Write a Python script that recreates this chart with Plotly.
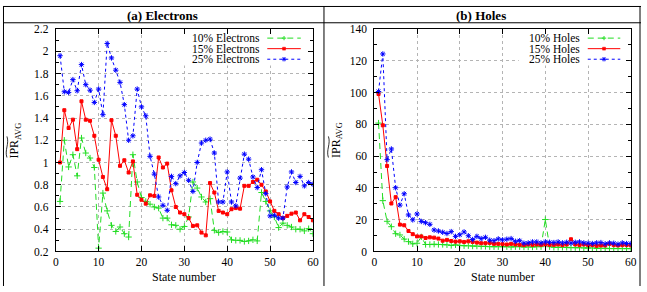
import plotly.graph_objects as go

W, H = 647, 292

# ---------------- data ----------------
states = list(range(1, 61))

electrons_10 = [0.65, 1.2, 0.96, 1.07, 0.88, 1.22, 1.085, 1.04, 0.955, 0.23,
                0.725, 0.565, 0.435, 0.38, 0.42, 0.36, 0.33, 1.07, 0.825, 0.685,
                0.65, 0.625, 0.60, 0.59, 0.50, 0.50, 0.44, 0.435, 0.40, 0.425,
                0.51, 0.825, 0.77, 0.69, 0.645, 0.675, 0.39, 0.37, 0.38, 0.375,
                0.305, 0.30, 0.30, 0.29, 0.295, 0.305, 0.295, 0.73, 0.65, 0.565,
                0.51, 0.415, 0.455, 0.435, 0.42, 0.40, 0.40, 0.385, 0.405, 0.36]
electrons_15 = [1.0, 1.47, 1.31, 1.385, 1.12, 1.55, 1.385, 1.375, 1.24, 1.025,
                0.87, 0.76, 1.38, 1.24, 0.97, 1.02, 0.91, 1.01, 0.71, 0.665,
                0.63, 0.705, 0.70, 1.045, 0.955, 0.99, 0.75, 0.60, 0.55, 0.535,
                0.50, 0.43, 0.435, 0.37, 0.345, 0.815, 0.73, 0.565, 0.55, 0.535,
                0.58, 0.59, 0.585, 0.79, 0.79, 0.825, 0.845, 0.80, 0.74, 0.65,
                0.565, 0.535, 0.50, 0.52, 0.54, 0.55, 0.48, 0.535, 0.51, 0.48]
electrons_25 = [1.96, 1.636, 1.63, 1.745, 1.645, 1.88, 1.70, 1.65, 1.54, 1.66,
                1.43, 2.07, 1.94, 1.83, 1.72, 1.52, 1.20, 1.24, 1.66, 1.50,
                1.42, 1.055, 0.895, 0.69, 0.615, 0.57, 0.875, 0.81, 0.88, 0.91,
                0.84, 0.74, 1.0, 1.175, 1.20, 1.21, 1.085, 0.645, 0.645, 0.915,
                0.645, 0.61, 0.86, 1.075, 1.03, 0.87, 0.775, 0.935, 0.72, 0.52,
                0.525, 0.50, 0.50, 0.78, 0.915, 0.82, 0.875, 0.79, 0.82, 0.805]

holes_10 = [80.8, 32.0, 19.0, 15.6, 11.2, 10.4, 7.8, 6.2, 4.8, 5.2,
            9.2, 4.4, 4.4, 4.6, 4.4, 4.4, 4.2, 3.8, 4.2, 3.8,
            3.6, 3.6, 3.4, 3.4, 3.2, 3.2, 3.0, 3.0, 3.0, 3.0,
            3.0, 2.8, 3.0, 3.0, 2.8, 2.8, 2.8, 3.0, 3.0, 20.1,
            3.0, 2.6, 2.6, 2.6, 2.6, 2.4, 2.4, 2.4, 2.2, 2.2,
            2.2, 2.0, 2.0, 2.0, 1.8, 1.8, 1.8, 1.8, 1.8, 1.8]
holes_15 = [99.1, 79.4, 53.8, 30.2, 34.2, 16.9, 16.5, 12.9, 10.9, 9.5,
            9.5, 8.5, 8.9, 8.7, 8.1, 6.8, 7.3, 6.6, 6.2, 6.4,
            6.0, 6.4, 6.0, 5.6, 5.2, 5.2, 5.4, 4.8, 4.8, 4.6,
            4.4, 4.8, 4.4, 4.2, 4.0, 4.4, 4.2, 4.4, 4.2, 4.4,
            4.2, 4.2, 4.4, 4.0, 4.4, 7.7, 4.4, 4.0, 4.4, 4.0,
            4.0, 3.6, 3.8, 3.8, 4.8, 4.0, 3.8, 4.0, 4.0, 3.8]
holes_25 = [100.7, 124.3, 57.8, 64.5, 40.1, 29.2, 36.3, 23.0, 19.9, 23.6,
            18.9, 18.1, 17.1, 13.5, 12.9, 12.1, 11.3, 12.5, 9.5, 10.5,
            12.3, 9.9, 7.5, 9.5, 8.1, 8.9, 7.1, 6.8, 7.9, 7.3,
            7.7, 8.1, 6.4, 6.8, 5.2, 5.4, 6.0, 6.0, 5.4, 6.0,
            5.8, 5.6, 6.0, 5.4, 5.8, 5.2, 5.8, 6.0, 5.4, 5.2,
            5.0, 5.4, 5.6, 4.8, 5.4, 5.2, 4.6, 5.4, 5.0, 5.0]

x_tickvals = [0, 10, 20, 30, 40, 50, 60]
e_tickvals = [0.2, 0.4, 0.6, 0.8, 1.0, 1.2, 1.4, 1.6, 1.8, 2.0, 2.2]
e_ticktext = ["0.2", "0.4", "0.6", "0.8", "1", "1.2", "1.4", "1.6", "1.8", "2", "2.2"]
h_tickvals = [0, 20, 40, 60, 80, 100, 120, 140]
h_ticktext = ["0", "20", "40", "60", "80", "100", "120", "140"]

panel_titles = ["(a) Electrons", "(b) Holes"]
e_names = ["10% Electrons", "15% Electrons", "25% Electrons"]
h_names = ["10% Holes", "15% Holes", "25% Holes"]
x_title = "State number"

# ---------------- styling ----------------
FONT = "Liberation Serif"
GREEN, RED, BLUE = "#22dd22", "#ff0000", "#0000ff"
series_style = [
    dict(color=GREEN, dash="6px,4px", symbol="cross-thin-open", size=4.5),
    dict(color=RED, dash="solid", symbol="square", size=3),
    dict(color=BLUE, dash="3px,3px", symbol="asterisk-open", size=4.5),
]

L_X0, L_X1 = 53.5, 314.3
R_X0, R_X1 = 376.5, 636.7
Y_TOP, Y_BOT = 24.0, 256.0
E_RANGE = [0.2, 2.2]
H_RANGE = [0, 140]
X_RANGE = [0, 60]


def px(x):
    return x / W


def py(y):
    return 1 - y / H


fig = go.Figure()

for vals, name, st in zip([electrons_10, electrons_15, electrons_25], e_names, series_style):
    fig.add_trace(go.Scatter(
        x=states, y=vals, name=name, mode="lines+markers", xaxis="x", yaxis="y",
        line=dict(color=st["color"], width=1, dash=st["dash"]),
        marker=dict(symbol=st["symbol"], size=st["size"], color=st["color"],
                    line=dict(color=st["color"], width=1)),
        showlegend=False, cliponaxis=True))

for vals, name, st in zip([holes_10, holes_15, holes_25], h_names, series_style):
    fig.add_trace(go.Scatter(
        x=states, y=vals, name=name, mode="lines+markers", xaxis="x2", yaxis="y2",
        line=dict(color=st["color"], width=1, dash=st["dash"]),
        marker=dict(symbol=st["symbol"], size=st["size"], color=st["color"],
                    line=dict(color=st["color"], width=1)),
        showlegend=False, cliponaxis=True))

axis_common = dict(
    showline=True, linecolor="black", linewidth=1, mirror="allticks",
    ticks="inside", ticklen=5, tickwidth=1, tickcolor="black",
    showgrid=True, gridcolor="#b4b4b4", griddash="dot", gridwidth=1,
    zeroline=False, tickfont=dict(family=FONT, size=11.5, color="black"),
    layer="above traces",
)
minor_e = dict(dtick=0.1, tick0=0.2, ticks="inside", ticklen=3, tickcolor="black", showgrid=False)
minor_h = dict(dtick=10, tick0=0, ticks="inside", ticklen=3, tickcolor="black", showgrid=False)

fig.update_layout(
    width=W, height=H, autosize=False,
    margin=dict(l=0, r=0, t=0, b=0),
    paper_bgcolor="white", plot_bgcolor="white",
    showlegend=False,
    xaxis=dict(domain=[px(L_X0), px(L_X1)], range=X_RANGE, tickmode="array",
               tickvals=x_tickvals, anchor="y", **axis_common),
    yaxis=dict(domain=[py(Y_BOT), py(Y_TOP)], range=E_RANGE, tickmode="array",
               tickvals=e_tickvals, ticktext=e_ticktext, anchor="x", minor=minor_e,
               ticklabelstandoff=4, **axis_common),
    xaxis2=dict(domain=[px(R_X0), px(R_X1)], range=X_RANGE, tickmode="array",
                tickvals=x_tickvals, anchor="y2", **axis_common),
    yaxis2=dict(domain=[py(Y_BOT), py(Y_TOP)], range=H_RANGE, tickmode="array",
                tickvals=h_tickvals, ticktext=h_ticktext, anchor="x2", minor=minor_h,
                ticklabelstandoff=4, **axis_common),
)

shapes = []
annotations = []

# table-like frame
line_style = dict(color="black", width=1)
for (x0, y0, x1, y1) in [(0, 0.5, W, 0.5), (0, 17.5, W, 17.5), (0.5, 0, 0.5, H),
                         (325.5, 0, 325.5, H), (646, 0, 646, H)]:
    shapes.append(dict(type="line", xref="paper", yref="paper",
                       x0=px(x0), y0=py(y0), x1=px(x1), y1=py(y1), line=line_style, layer="above"))

# panel titles
for cx, txt in zip([162, 485], panel_titles):
    annotations.append(dict(text="<b>%s</b>" % txt, x=px(cx), y=py(9.5), xref="paper", yref="paper",
                            showarrow=False, xanchor="center", yanchor="middle",
                            font=dict(family=FONT, size=13, color="black")))

# axis titles
for cx in [183.9, 506.6]:
    annotations.append(dict(text=x_title, x=px(cx), y=py(283), xref="paper", yref="paper",
                            showarrow=False, xanchor="center", yanchor="middle",
                            font=dict(family=FONT, size=12, color="black")))
for cx in [12.5, 338.5]:
    annotations.append(dict(text="IPR<sub>AVG</sub>", x=px(cx), y=py(140), xref="paper", yref="paper",
                            showarrow=False, xanchor="center", yanchor="middle", textangle=-90,
                            font=dict(family=FONT, size=12, color="black")))
    # wide tilde over IPR (rotated)
    xc = cx - 8.5
    yb, Lt, a = 158.0, 22.0, 1.3
    pts = [(xc, yb), (xc - 2 * a, yb - 0.35 * Lt), (xc + 2 * a, yb - 0.65 * Lt), (xc, yb - Lt)]
    path = "M %f,%f C %f,%f %f,%f %f,%f" % (
        px(pts[0][0]), py(pts[0][1]), px(pts[1][0]), py(pts[1][1]),
        px(pts[2][0]), py(pts[2][1]), px(pts[3][0]), py(pts[3][1]))
    shapes.append(dict(type="path", xref="paper", yref="paper", path=path,
                       line=dict(color="black", width=0.8), layer="above"))


# manual legends (text right-aligned, sample on the right)
def add_legend(axis_suffix, dom_x0, dom_x1, yrange, box_x0, text_right, s_x0, s_x1, names):
    xr = "x%s" % axis_suffix
    yr = "y%s" % axis_suffix

    def dx(x):
        return X_RANGE[0] + (x - dom_x0) / (dom_x1 - dom_x0) * (X_RANGE[1] - X_RANGE[0])

    def dy(y):
        return yrange[0] + (Y_BOT - y) / (Y_BOT - Y_TOP) * (yrange[1] - yrange[0])

    shapes.append(dict(type="rect", xref=xr, yref=yr, x0=dx(box_x0), x1=dx(dom_x1 - 0.8),
                       y0=dy(62), y1=dy(Y_TOP + 0.8), fillcolor="white",
                       line=dict(width=0), layer="between"))
    rows = [33.5, 44.5, 55.5]
    for name, st, ry in zip(names, series_style, rows):
        annotations.append(dict(text=name, x=px(text_right), y=py(ry), xref="paper", yref="paper",
                                showarrow=False, xanchor="right", yanchor="middle",
                                font=dict(family=FONT, size=11.5, color="black")))
        shapes.append(dict(type="line", xref="paper", yref="paper", x0=px(s_x0), x1=px(s_x1),
                           y0=py(ry), y1=py(ry),
                           line=dict(color=st["color"], width=1, dash=st["dash"]), layer="above"))
        mx = (s_x0 + s_x1) / 2
        if st["symbol"] == "cross-thin-open":
            r = 2.2
            p = "M %f,%f L %f,%f M %f,%f L %f,%f" % (px(mx - r), py(ry), px(mx + r), py(ry),
                                                      px(mx), py(ry - r), px(mx), py(ry + r))
            shapes.append(dict(type="path", xref="paper", yref="paper", path=p,
                               line=dict(color=st["color"], width=1), layer="above"))
        elif st["symbol"] == "square":
            r = 1.5
            shapes.append(dict(type="rect", xref="paper", yref="paper",
                               x0=px(mx - r), x1=px(mx + r), y0=py(ry + r), y1=py(ry - r),
                               fillcolor=st["color"], line=dict(color=st["color"], width=0.5),
                               layer="above"))
        else:
            r = 2.3
            d = r * 0.707
            p = "M %f,%f L %f,%f M %f,%f L %f,%f M %f,%f L %f,%f M %f,%f L %f,%f" % (
                px(mx - r), py(ry), px(mx + r), py(ry),
                px(mx), py(ry - r), px(mx), py(ry + r),
                px(mx - d), py(ry - d), px(mx + d), py(ry + d),
                px(mx - d), py(ry + d), px(mx + d), py(ry - d))
            shapes.append(dict(type="path", xref="paper", yref="paper", path=p,
                               line=dict(color=st["color"], width=1), layer="above"))


add_legend("", L_X0, L_X1, E_RANGE, 170, 263, 268, 302, e_names)
add_legend("2", R_X0, R_X1, H_RANGE, 523, 587, 593, 626, h_names)

fig.update_layout(shapes=shapes, annotations=annotations)

fig.write_html("out.html", config={"displayModeBar": False},
               post_script="document.body.style.margin='0';")
